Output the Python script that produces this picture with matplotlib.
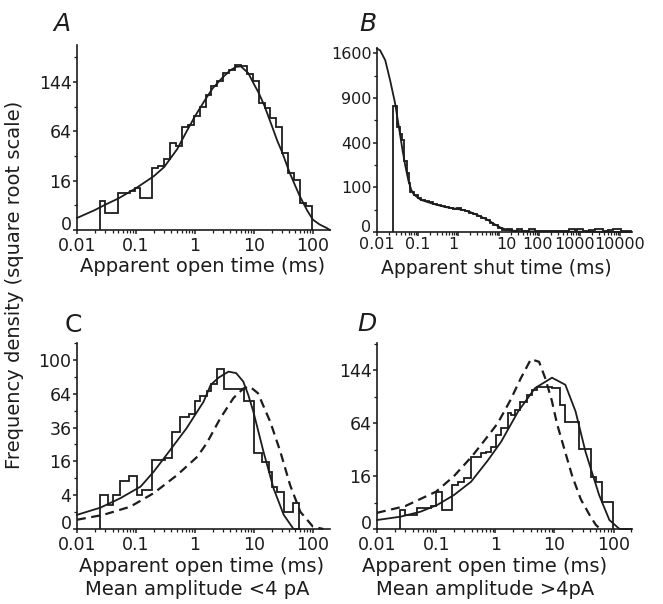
#!/usr/bin/env python3
"""Open/shut time histograms (sqrt-scaled frequency density vs log time)."""

import numpy as np
import matplotlib
matplotlib.use("Agg")
import matplotlib.pyplot as plt
from matplotlib.ticker import FixedLocator, FixedFormatter, LogLocator, NullFormatter
from matplotlib.transforms import offset_copy

plt.rcParams['font.family'] = ['DejaVu Sans']

# ---- panel A: apparent open time ----
a_edges = [0.0245, 0.030, 0.050, 0.079, 0.098, 0.117, 0.187, 0.236, 0.299, 0.377, 0.476,
           0.603, 0.761, 0.962, 1.22, 1.54, 1.87, 2.36, 2.98, 3.77, 4.76, 6.03, 7.61, 9.62,
           12.2, 15.3, 18.7, 23.6, 29.9, 37.7, 47.6, 60.3, 76.1, 96.2]
a_counts = [5.7, 1.9, 9.0, 10.0, 11.5, 6.8, 25, 27, 33, 50, 46, 70, 73, 86, 100, 120, 136,
            145, 162, 168, 178, 176, 160, 145, 106, 98, 82, 70, 39, 21, 16.5, 4.7, 3.9]
a_fit_t = [0.01, 0.02, 0.03, 0.05, 0.1, 0.2, 0.3, 0.5, 0.7, 1, 1.5, 2, 3, 4, 5, 6, 8, 10,
           12, 15, 20, 25, 30, 40, 50, 60, 80, 100, 130, 170, 195]
a_fit_v = [0.95, 2.6, 4.2, 6.5, 11.5, 19, 26, 43, 62, 85, 112, 132, 154, 168, 175, 176, 162,
           140, 124, 102, 72, 52, 40, 22, 13, 7.5, 2.5, 0.7, 0.2, 0.03, 0.0]

# ---- panel B: apparent shut time ----
b_edges = [0.0255, 0.031, 0.0376, 0.0415, 0.0455, 0.055, 0.061, 0.067, 0.081, 0.10, 0.12,
           0.15, 0.19, 0.24, 0.30, 0.38, 0.48, 0.60, 0.75, 0.95, 1.2, 1.5, 1.9, 2.4, 3.0,
           3.8, 4.8, 6.0, 7.5, 9.5, 12, 16, 21, 28, 38, 56, 79, 110, 160, 250, 400, 560,
           760, 890, 1200, 1700, 2400, 3800, 5000, 6700, 10600, 15000, 19000]
b_counts = [800, 555, 487, 424, 250, 172, 119, 81, 68, 58, 52, 48, 44, 40, 36, 34, 31, 29,
            27, 29, 24, 22, 19, 16, 13, 10, 7, 4.5, 2.5, 0.9, 0.3, 0.6, 0.1, 0.6, 0.1, 0.6,
            0.05, 0.1, 0.02, 0.05, 0.1, 0.6, 0.2, 0.6, 0.1, 0.2, 0.6, 0.1, 0.2, 0.6, 0.05, 0.02]
b_fit_t = [0.01, 0.012, 0.016, 0.021, 0.028, 0.032, 0.037, 0.043, 0.05, 0.06, 0.07, 0.08,
           0.1, 0.12, 0.2, 0.3, 0.5, 0.8, 1.4, 2, 3, 5.5, 8, 12, 20, 50, 19000]
b_fit_v = [1690, 1655, 1480, 1160, 830, 650, 480, 330, 220, 130, 90, 72, 60, 52, 43, 37, 31,
           28, 24, 20, 14.5, 7.2, 3.0, 0.7, 0.1, 0.02, 0.0]
b_xticks = [0.01, 0.1, 1, 10, 100, 1000, 10000]
b_xlabels = ["0.01", "0.1", "1", "10", "100", "1000", "10000"]

# ---- panel C: open time, mean amplitude < 4 pA ----
c_edges = [0.0246, 0.0341, 0.0415, 0.054, 0.0747, 0.1038, 0.126, 0.187, 0.315, 0.409,
           0.566, 0.784, 1.02, 1.24, 1.61, 1.84, 2.39, 3.09, 6.77, 10.0, 13.9, 18.0, 20.6,
           25.1, 32.5, 45.1, 58.5]
c_counts = [4.05, 2.0, 4.05, 8.1, 9.9, 4.05, 5.3, 16.7, 17.5, 33, 44, 46, 57, 62, 67, 74,
            90, 69, 57, 20, 15.9, 11.5, 6.3, 4.9, 1.05, 2.3]
c_fit_t = [0.01, 0.025, 0.054, 0.12, 0.2, 0.38, 0.72, 1.4, 1.85, 2.5, 3.7, 5, 6.6, 8, 9.8,
           14.5, 21.5, 32, 47, 60]
c_fit_v = [0.7, 1.6, 3.3, 6.3, 11.5, 21.8, 35.5, 56.7, 72.6, 80, 86.6, 85, 76, 63, 48, 21,
           5.8, 0.7, 0.0, 0.0]
c_ref_t = [0.01, 0.028, 0.08, 0.2, 0.5, 1.1, 1.6, 2.7, 4.5, 6.6, 8.5, 11.7, 19, 28, 41, 61,
           100, 150]
c_ref_v = [0.3, 0.7, 1.74, 4.5, 10.2, 18.3, 26, 43, 60, 69, 71, 64.5, 40, 21, 6.8, 1.05,
           0.02, 0.0]

# ---- panel D: open time, mean amplitude > 4 pA ----
d_edges = [0.0247, 0.0301, 0.0477, 0.0618, 0.0805, 0.098, 0.1277, 0.189, 0.230, 0.299,
           0.389, 0.577, 0.702, 0.855, 1.04, 1.27, 1.65, 1.88, 2.14, 2.60, 3.39, 4.12, 5.02,
           9.06, 12.6, 15.3, 25.9, 33.6, 40.9, 49.8, 64.9, 96.1]
d_counts = [2.1, 1.1, 2.6, 2.5, 3.1, 8.0, 2.1, 11.1, 12.8, 14.7, 30, 32.9, 34.3, 38.8, 50.7,
            58, 76.8, 74.6, 81, 93, 103, 111, 116, 113, 88, 66, 37, 37, 15.7, 12.8, 4.3]
d_fit_t = [0.01, 0.025, 0.054, 0.104, 0.2, 0.39, 0.75, 1.26, 2.43, 4.7, 9.1, 15.3, 22.8,
           33.6, 57, 85, 126, 200]
d_fit_v = [0.46, 0.87, 1.7, 3.3, 6.6, 12.8, 27, 43.7, 79, 113.6, 131, 119, 79, 34, 6.6,
           0.46, 0.0, 0.0]
d_ref_t = [0.01, 0.03, 0.1, 0.2, 0.4, 0.7, 1.1, 1.8, 2.7, 4, 5.5, 7, 9, 11, 15, 20, 28, 40,
           50, 60]
d_ref_v = [1.5, 3, 8, 16, 30, 47, 64, 95, 130, 165, 160, 130, 95, 64, 35, 16, 5, 1, 0.1, 0.0]

INK = "#1c1c1c"


def sqrt_fwd(v):
    return np.sqrt(np.clip(v, 0, None))


def sqrt_inv(v):
    return np.square(v)


def setup(ax, xlim, xticks, xlabels, ylim, yticks, ylabels, yminor, size=12.5):
    ax.set_xscale("log")
    ax.set_yscale("function", functions=(sqrt_fwd, sqrt_inv))
    ax.set_xlim(*xlim)
    ax.set_ylim(*ylim)
    ax.xaxis.set_major_locator(FixedLocator(xticks))
    ax.xaxis.set_major_formatter(FixedFormatter(xlabels))
    ax.xaxis.set_minor_locator(LogLocator(base=10, subs=np.arange(2, 10), numticks=100))
    ax.xaxis.set_minor_formatter(NullFormatter())
    ax.yaxis.set_major_locator(FixedLocator(yticks))
    ax.yaxis.set_major_formatter(FixedFormatter(ylabels))
    ax.yaxis.set_minor_locator(FixedLocator(yminor))
    ax.yaxis.set_minor_formatter(NullFormatter())
    for s in ("top", "right"):
        ax.spines[s].set_visible(False)
    for s in ("left", "bottom"):
        ax.spines[s].set_linewidth(1.2)
        ax.spines[s].set_color(INK)
    ax.tick_params(which="major", direction="out", length=3, width=1.1, labelsize=size,
                   colors=INK)
    ax.tick_params(axis="x", which="major", pad=2)
    ax.tick_params(axis="y", which="major", pad=1)
    ax.tick_params(which="minor", direction="out", length=2, width=0.9, colors=INK)
    ax.patch.set_alpha(0)
    # the "0" label sits on the axis line so it clears the first x label
    ax.get_yticklabels()[0].set_va("baseline")


fig = plt.figure(figsize=(6.63, 6.04), dpi=100)
W, H = 663.0, 604.0


def axes_px(left, top, right, bottom):
    return fig.add_axes([left / W, 1 - bottom / H, (right - left) / W, (bottom - top) / H])


axA = axes_px(77, 45, 330, 230)
axB = axes_px(377, 48, 632, 232)
axC = axes_px(77, 343, 330, 529)
axD = axes_px(377, 343, 632, 529)

dec5 = [0.01, 0.1, 1, 10, 100]
dec5_lab = ["0.01", "0.1", "1", "10", "100"]

setup(axA, (0.01, 195), dec5, dec5_lab, (0, 225), [0, 16, 64, 144],
      ["0", "16", "64", "144"], [4, 36, 100, 196])
setup(axB, (0.01, 19770), b_xticks, [""] * len(b_xticks), (0, 1700),
      [0, 100, 400, 900, 1600], ["0", "100", "400", "900", "1600"],
      [25, 225, 625, 1225], size=11.5)
setup(axC, (0.01, 195), dec5, dec5_lab, (0, 121), [0, 4, 16, 36, 64, 100],
      ["0", "4", "16", "36", "64", "100"], [1, 9, 25, 49, 81, 121])
setup(axD, (0.01, 205), dec5, dec5_lab, (0, 198), [0, 16, 64, 144],
      ["0", "16", "64", "144"], [4, 36, 100, 196])

# panel B decade labels are crowded; nudge a few sideways as in the original
b_nudge = [0, 0, -5, 8, -2, -5, 0]
for val, lab, dx in zip(b_xticks, b_xlabels, b_nudge):
    tr = offset_copy(axB.get_xaxis_transform(), fig=fig, x=dx, y=-5, units="dots")
    axB.text(val, 0, lab, transform=tr, ha="center", va="top", fontsize=11.5, color=INK)

lw = 1.3
axA.stairs(a_counts, a_edges, baseline=0, color=INK, lw=lw)
axA.plot(a_fit_t, a_fit_v, color=INK, lw=lw)

axB.stairs(b_counts, b_edges, baseline=0, color=INK, lw=lw)
axB.plot(b_fit_t, b_fit_v, color=INK, lw=lw)

axC.stairs(c_counts, c_edges, baseline=0, color=INK, lw=lw)
axC.plot(c_fit_t, c_fit_v, color=INK, lw=lw)
axC.plot(c_ref_t, c_ref_v, color=INK, lw=1.6, ls=(0, (4, 2.5)))

axD.stairs(d_counts, d_edges, baseline=0, color=INK, lw=lw)
axD.plot(d_fit_t, d_fit_v, color=INK, lw=lw)
axD.plot(d_ref_t, d_ref_v, color=INK, lw=1.6, ls=(0, (4, 2.5)))

for ax in (axA, axB, axC, axD):
    for art in ax.lines + ax.patches:
        art.set_clip_on(False)


def ftext(x, y, s, **kw):
    fig.text(x / W, 1 - y / H, s, color=INK, ha="center", va="center", **kw)


ftext(62, 24, "A", fontsize=18, style="italic")
ftext(368, 24, "B", fontsize=18, style="italic")
ftext(73, 325, "C", fontsize=18)
ftext(367, 324, "D", fontsize=18, style="italic")

ftext(203, 267, "Apparent open time (ms)", fontsize=14)
ftext(496, 269, "Apparent shut time (ms)", fontsize=13.5)
ftext(202, 566.5, "Apparent open time (ms)", fontsize=14)
ftext(485, 566.5, "Apparent open time (ms)", fontsize=14)
ftext(197, 589.5, "Mean amplitude <4 pA", fontsize=14)
ftext(485, 589.5, "Mean amplitude >4pA", fontsize=14)
ftext(15, 285, "Frequency density (square root scale)", fontsize=14, rotation=90)

fig.savefig("out.png", dpi=100, facecolor="white")
